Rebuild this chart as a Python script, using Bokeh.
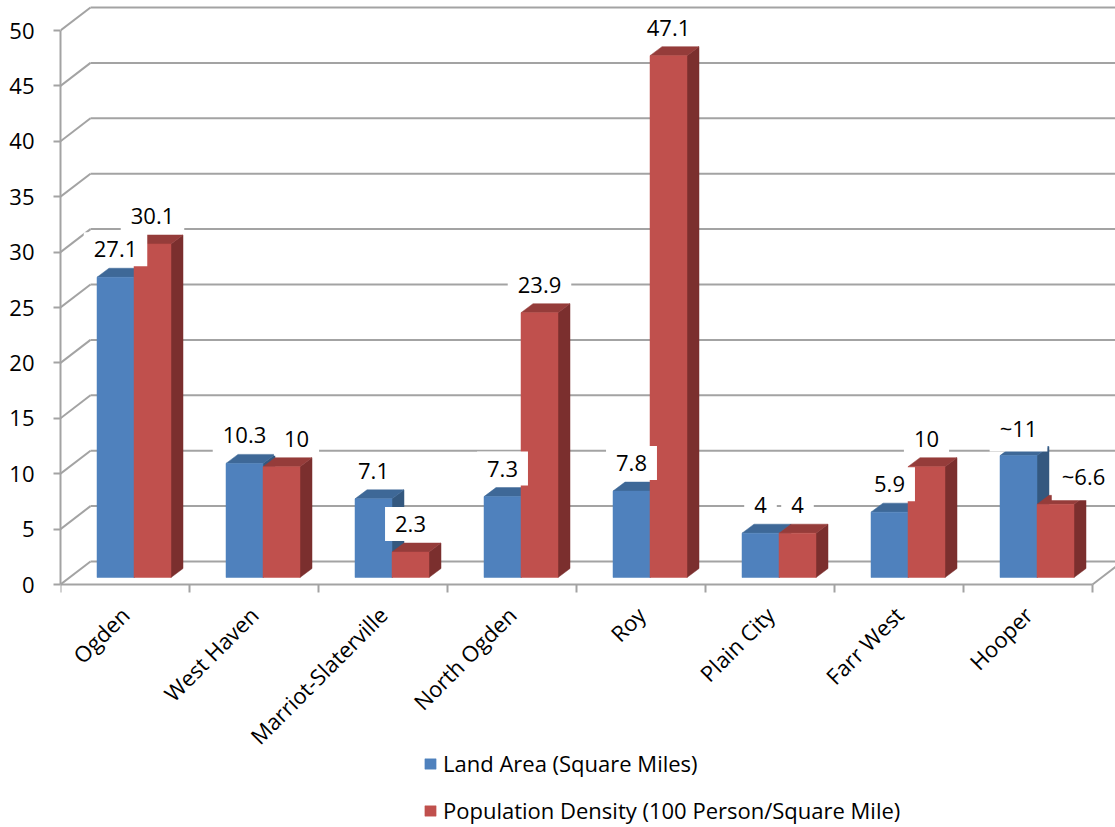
from bokeh.plotting import figure
from bokeh.models import Range1d, FixedTicker, Legend, LegendItem
from bokeh.core.properties import value
from bokeh.embed import file_html
from bokeh.resources import INLINE

# ---------------- data ----------------
categories = ["Ogden", "West Haven", "Marriot-Slaterville", "North Ogden",
              "Roy", "Plain City", "Farr West", "Hooper"]
land_area = [27.1, 10.3, 7.1, 7.3, 7.8, 4, 5.9, 11]
pop_density = [30.1, 10, 2.3, 23.9, 47.1, 4, 10, 6.6]
land_labels = ["27.1", "10.3", "7.1", "7.3", "7.8", "4", "5.9", "~11"]
pop_labels = ["30.1", "10", "2.3", "23.9", "47.1", "4", "10", "~6.6"]
series_names = ["Land Area (Square Miles)",
                "Population Density (100 Person/Square Mile)"]
y_ticks = [0, 5, 10, 15, 20, 25, 30, 35, 40, 45, 50]

# ---------------- styling / geometry (pixels) ----------------
FONT = "Open Sans"
FS = "22px"
GRID = "#a3a3a3"
PX_X = 129.0           # pixels per category slot
PX_Y = 554.0 / 50.0    # pixels per value unit
BACK_DX, BACK_DY = 30, 23   # back wall offset
BAR_DX, BAR_DY = 9, 7       # bar front plane offset
DEP_DX, DEP_DY = 12, 9      # bar depth
BAR_W = 37                  # bar width
LABEL_UP = 28               # label centre above bar top
LABEL_NUDGE = {(1, 1): 15, (7, 1): 28}   # (category, series): px shift right

COLORS = [
    dict(front="#4f81bd", top="#3e6897", side="#34587f"),
    dict(front="#c0504d", top="#953c3a", side="#7b2f2e"),
]

AXIS_Y_PX = 584
X_MAX = 1055 / PX_X
Y_MAX = AXIS_Y_PX / PX_Y
Y_MIN = -(827 - AXIS_Y_PX) / PX_Y

p = figure(width=1115, height=827,
           x_range=Range1d(0, X_MAX), y_range=Range1d(Y_MIN, Y_MAX),
           output_backend="svg", toolbar_location=None,
           min_border_left=60, min_border_right=0,
           min_border_top=0, min_border_bottom=0)
p.background_fill_color = "white"
p.border_fill_color = "white"
p.outline_line_color = None
p.xgrid.visible = False
p.ygrid.visible = False

bx, by = BACK_DX / PX_X, BACK_DY / PX_Y
n = len(y_ticks)
# side wall diagonals
p.segment(x0=[0] * n, y0=y_ticks, x1=[bx] * n, y1=[t + by for t in y_ticks],
          line_color=GRID, line_width=2)
# back wall gridlines
p.segment(x0=[bx] * n, y0=[t + by for t in y_ticks], x1=[X_MAX] * n,
          y1=[t + by for t in y_ticks], line_color=GRID, line_width=2)
# right floor edge
ncat = len(categories)
p.segment(x0=[ncat], y0=[0], x1=[ncat + bx], y1=[by],
          line_color=GRID, line_width=2)

# ---------------- bars ----------------
fx, fy = BAR_DX / PX_X, BAR_DY / PX_Y
dx, dy = DEP_DX / PX_X, DEP_DY / PX_Y
bw = BAR_W / PX_X
front_renderers = []
for s, vals in enumerate([land_area, pop_density]):
    lefts = [i + 0.5 + (s - 1) * bw + fx for i in range(ncat)]
    rights = [l + bw for l in lefts]
    tops = [v + fy for v in vals]
    side_xs = [[r, r, r + dx, r + dx] for r in rights]
    side_ys = [[fy, t, t + dy, fy + dy] for t in tops]
    top_xs = [[l, r, r + dx, l + dx] for l, r in zip(lefts, rights)]
    top_ys = [[t, t, t + dy, t + dy] for t in tops]
    c = COLORS[s]
    p.patches(side_xs, side_ys, fill_color=c["side"], line_color=c["side"], line_width=0.5)
    p.patches(top_xs, top_ys, fill_color=c["top"], line_color=c["top"], line_width=0.5)
    fr = p.quad(left=lefts, right=rights, bottom=[fy] * ncat, top=tops,
                fill_color=c["front"], line_color=c["front"], line_width=0.5)
    front_renderers.append(fr)

# ---------------- data labels ----------------
lx, ly, lt = [], [], []
for s, (vals, labs) in enumerate([(land_area, land_labels), (pop_density, pop_labels)]):
    for i, (v, t) in enumerate(zip(vals, labs)):
        nudge = LABEL_NUDGE.get((i, s), 0)
        lx.append(i + 0.5 + (s - 0.5) * bw + fx + nudge / PX_X)
        ly.append(v + fy + LABEL_UP / PX_Y)
        lt.append(t)
p.text(x=lx, y=ly, text=lt, text_align="center", text_baseline="middle",
       text_font=value(FONT), text_font_size=FS, text_color="black",
       background_fill_color="white",
       padding=dict(left=10, right=10, top=9, bottom=9))

# ---------------- axes ----------------
ya = p.yaxis[0]
ya.ticker = FixedTicker(ticks=y_ticks)
ya.bounds = (0, 50)
ya.axis_line_color = GRID
ya.axis_line_width = 2
ya.major_tick_line_color = GRID
ya.major_tick_line_width = 2
ya.major_tick_in = 0
ya.major_tick_out = 7
ya.minor_tick_line_color = None
ya.major_label_standoff = 19
ya.major_label_text_font = FONT
ya.major_label_text_font_size = FS
ya.major_label_text_color = "black"

xa = p.xaxis[0]
xa.fixed_location = 0
xa.ticker = FixedTicker(ticks=[i + 0.5 for i in range(ncat)],
                        minor_ticks=list(range(ncat + 1)))
xa.major_label_overrides = {i + 0.5: c for i, c in enumerate(categories)}
xa.bounds = (0, ncat)
xa.axis_line_color = GRID
xa.axis_line_width = 2
xa.major_tick_line_color = None
xa.major_tick_in = 0
xa.major_tick_out = 0
xa.minor_tick_line_color = GRID
xa.minor_tick_line_width = 2
xa.minor_tick_in = 0
xa.minor_tick_out = 8
xa.major_label_orientation = 0.785398
xa.major_label_standoff = 18
xa.major_label_text_font = FONT
xa.major_label_text_font_size = FS
xa.major_label_text_color = "black"

# ---------------- legend ----------------
legend = Legend(items=[LegendItem(label=series_names[0], renderers=[front_renderers[0]]),
                       LegendItem(label=series_names[1], renderers=[front_renderers[1]])],
                location=(363, 2), orientation="vertical",
                glyph_width=14, glyph_height=13, label_standoff=6,
                label_height=30, spacing=17, padding=0, margin=0,
                label_text_font=FONT, label_text_font_size=FS,
                label_text_color="black",
                background_fill_alpha=0, border_line_color=None)
p.add_layout(legend, "center")

open("out.html", "w").write(file_html(p, INLINE))
